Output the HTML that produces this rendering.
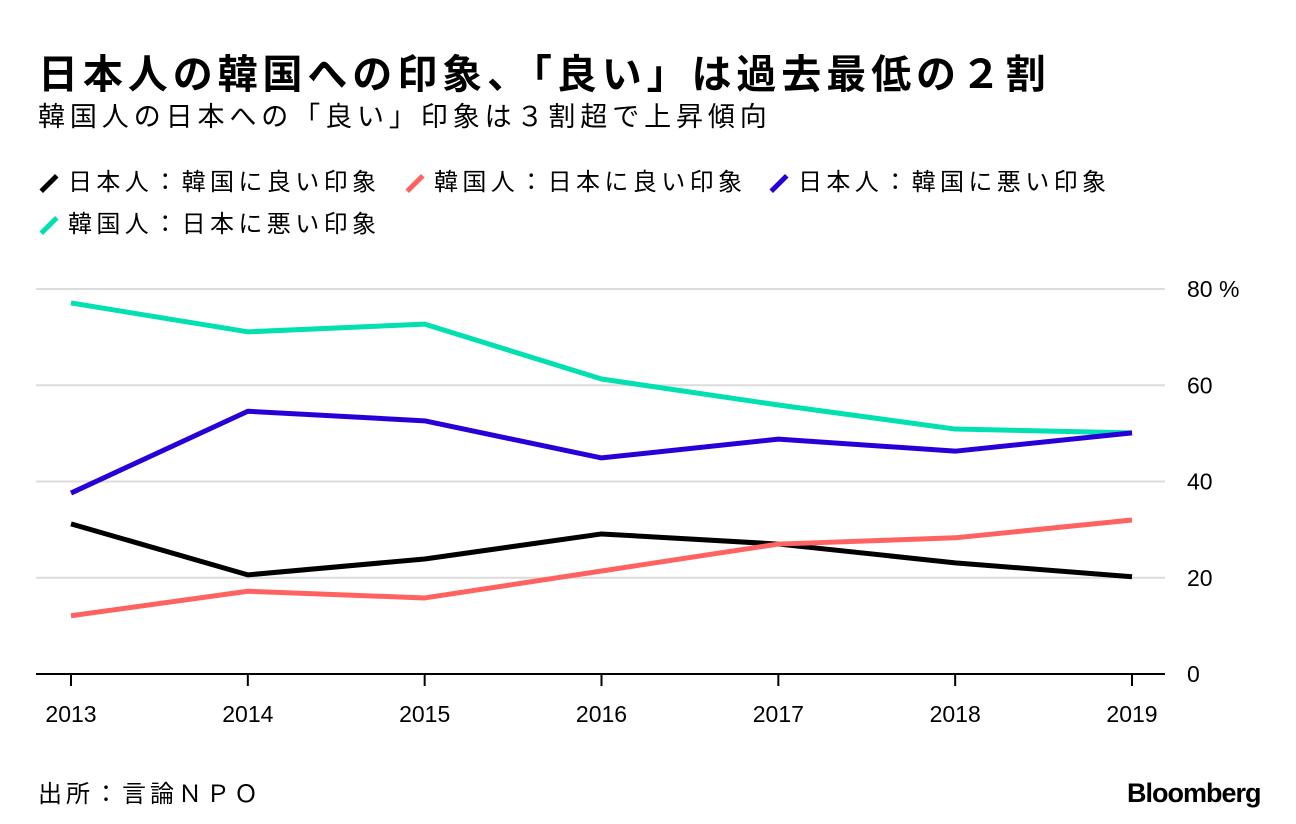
<!DOCTYPE html>
<html><head><meta charset="utf-8">
<style>
body{margin:0;background:#fff;width:1296px;height:824px;overflow:hidden;font-family:"Liberation Sans","Noto Sans CJK JP",sans-serif;color:#000}
.t{position:absolute;white-space:nowrap}
.lg{font-size:24px;letter-spacing:4.4px}
.ic{display:inline-block;width:22px;height:5px;transform:rotate(-45deg);margin-right:8px;vertical-align:middle}
</style></head><body>
<div class="t" style="left:38px;top:42px;font-size:40px;font-weight:bold;letter-spacing:4.9px;">日本人の韓国への印象、「良い」は過去最低の２割</div>
<div class="t" style="left:38px;top:95px;font-size:27px;letter-spacing:4.9px;">韓国人の日本への「良い」印象は３割超で上昇傾向</div>
<div>
<div class="t lg" style="left:38px;top:162px;"><span class="ic" style="background:#000"></span>日本人：韓国に良い印象</div>
<div class="t lg" style="left:404px;top:162px;"><span class="ic" style="background:#ff6361"></span>韓国人：日本に良い印象</div>
<div class="t lg" style="left:768px;top:162px;"><span class="ic" style="background:#2800d7"></span>日本人：韓国に悪い印象</div>
<div class="t lg" style="left:38px;top:204px;"><span class="ic" style="background:#00e0b0"></span>韓国人：日本に悪い印象</div>
</div>
<svg id="chart" width="1296" height="824" style="position:absolute;left:0;top:0"></svg>
<div class="t" style="left:38px;top:774px;font-size:24px;letter-spacing:4px;">出所：言論ＮＰＯ</div>
<div class="t" style="left:1127px;top:778px;font-size:27px;font-weight:bold;letter-spacing:-1px;">Bloomberg</div>
<script>
const years=["2013","2014","2015","2016","2017","2018","2019"];
const yTicks=[0,20,40,60,80];
const jpGood=[31.2,20.6,23.9,29.1,27.0,23.1,20.2];
const krGood=[12.1,17.2,15.8,21.4,27.0,28.3,32.0];
const jpBad=[37.6,54.6,52.6,44.9,48.8,46.3,50.1];
const krBad=[77.1,71.1,72.7,61.3,55.9,50.9,50.1];
const NS="http://www.w3.org/2000/svg";
const svg=document.getElementById('chart');
const x=i=>71+i*(1132-71)/(years.length-1);
const y=v=>674-v*(674-289)/80;
function mk(t,a){const e=document.createElementNS(NS,t);for(const k in a)e.setAttribute(k,a[k]);svg.appendChild(e);return e;}
yTicks.forEach(v=>{
 if(v>0){const g=mk('line',{x1:36,x2:1165,y1:y(v),y2:y(v),stroke:'#dcdcdc','stroke-width':2});
 
 }
 const t=mk('text',{x:1187,y:y(v)+8,'font-size':23,'font-family':'Liberation Sans, sans-serif'});
 t.textContent=v===80?'80 %':String(v);
 
 
});
const ax=mk('line',{x1:36,x2:1165,y1:674,y2:674,stroke:'#000','stroke-width':2});


years.forEach((yr,i)=>{
 const tk=mk('line',{x1:x(i),x2:x(i),y1:674,y2:686,stroke:'#000','stroke-width':2});
 
 
 const t=mk('text',{x:x(i),y:722,'font-size':23,'text-anchor':'middle','font-family':'Liberation Sans, sans-serif'});
 t.textContent=yr;
 
 
});
function line(d,c,n){const p=mk('polyline',{points:d.map((v,i)=>x(i)+','+y(v)).join(' '),fill:'none',stroke:c,'stroke-width':5,'stroke-linejoin':'round'});
 
 }
line(krBad,'#00e0b0','series-kr-bad');
line(jpBad,'#2800d7','series-jp-bad');
line(jpGood,'#000000','series-jp-good');
line(krGood,'#ff6361','series-kr-good');
</script>
</body></html>
